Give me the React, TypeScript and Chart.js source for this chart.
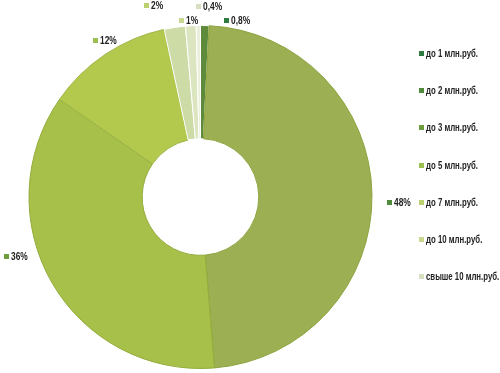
import React, { useEffect, useRef } from "react";
import { Chart, registerables } from "chart.js";

Chart.register(...registerables);

const categories = [
  "до 1 млн.руб.",
  "до 2 млн.руб.",
  "до 3 млн.руб.",
  "до 5 млн.руб.",
  "до 7 млн.руб.",
  "до 10 млн.руб.",
  "свыше 10 млн.руб.",
];
const shares = [0.8, 48, 36, 12, 2, 1, 0.4];
const sliceColors = ["#5e8a3c", "#9caf52", "#a7c04a", "#b2c94e", "#cddba6", "#dbe5bf", "#e9efdb"];
const legendColors = ["#2f7a3e", "#4e8c3c", "#6c9c3c", "#9cc050", "#bcd070", "#c8d890", "#d6dfc0"];
const borderColors = ["#ffffff", "#8ca43e", "#93ac3c", "#9bb444", "#ffffff", "#ffffff", "#ffffff"];

const FONT = "'Liberation Sans', Arial, sans-serif";
const LABEL_SQUEEZE = 0.84;
const LEGEND_SQUEEZE = 0.78;

// label marker offsets relative to slice outer mid point (style only)
const labelOffsets: [number, number][] = [
  [19, -6],
  [15, 8],
  [-48, -27],
  [-12, -14],
  [-31, -22],
  [-12, -6],
  [-2, -20],
];

const fmt = (v: number) => String(v).replace(".", ",") + "%";

function drawSqueezed(ctx: CanvasRenderingContext2D, text: string, x: number, y: number, k: number) {
  ctx.save();
  ctx.translate(x, y);
  ctx.scale(k, 1);
  ctx.fillText(text, 0, 0);
  ctx.restore();
}

const labelPlugin = {
  id: "sliceLabels",
  afterDatasetsDraw(chart: any) {
    const ctx = chart.ctx;
    const meta = chart.getDatasetMeta(0);
    ctx.save();
    ctx.font = "bold 10px " + FONT;
    ctx.textBaseline = "middle";
    ctx.textAlign = "left";
    meta.data.forEach((arc: any, i: number) => {
      const { x, y, startAngle, endAngle, outerRadius } = arc.getProps(
        ["x", "y", "startAngle", "endAngle", "outerRadius"],
        true
      );
      const mid = (startAngle + endAngle) / 2;
      const ax = Math.round(x + Math.cos(mid) * outerRadius + labelOffsets[i][0]);
      const ay = Math.round(y + Math.sin(mid) * outerRadius + labelOffsets[i][1]);
      ctx.fillStyle = legendColors[i];
      ctx.fillRect(ax, ay - 2, 5, 5);
      ctx.fillStyle = "#222222";
      drawSqueezed(ctx, fmt(shares[i]), ax + 7, ay + 1, LABEL_SQUEEZE);
    });
    ctx.restore();
  },
};

const legendPlugin = {
  id: "sideLegend",
  afterDraw(chart: any) {
    const ctx = chart.ctx;
    ctx.save();
    ctx.font = "bold 10px " + FONT;
    ctx.textBaseline = "middle";
    ctx.textAlign = "left";
    const left = chart.chartArea.right + 46;
    const top = 53;
    const step = 37.2;
    categories.forEach((c, i) => {
      const yy = Math.round(top + i * step);
      ctx.fillStyle = legendColors[i];
      ctx.fillRect(left, yy - 2, 5, 5);
      ctx.fillStyle = "#222222";
      drawSqueezed(ctx, c, left + 7, yy + 1, LEGEND_SQUEEZE);
    });
    ctx.restore();
  },
};

export default function App() {
  const ref = useRef<HTMLCanvasElement | null>(null);
  useEffect(() => {
    document.body.style.margin = "0";
    const chart = new Chart(ref.current as HTMLCanvasElement, {
      type: "doughnut",
      data: {
        labels: categories,
        datasets: [
          {
            data: shares,
            backgroundColor: sliceColors,
            borderColor: borderColors,
            borderWidth: 1,
          },
        ],
      },
      options: {
        animation: false,
        responsive: false,
        cutout: "34%",
        layout: { padding: { left: 28, right: 127, top: 25, bottom: 4 } },
        plugins: {
          legend: { display: false },
          tooltip: { enabled: false },
        },
      },
      plugins: [labelPlugin, legendPlugin],
    });
    return () => chart.destroy();
  }, []);
  return (
    <div style={{ width: 500, height: 373, background: "#fff" }}>
      <canvas ref={ref} width={500} height={373} />
    </div>
  );
}
